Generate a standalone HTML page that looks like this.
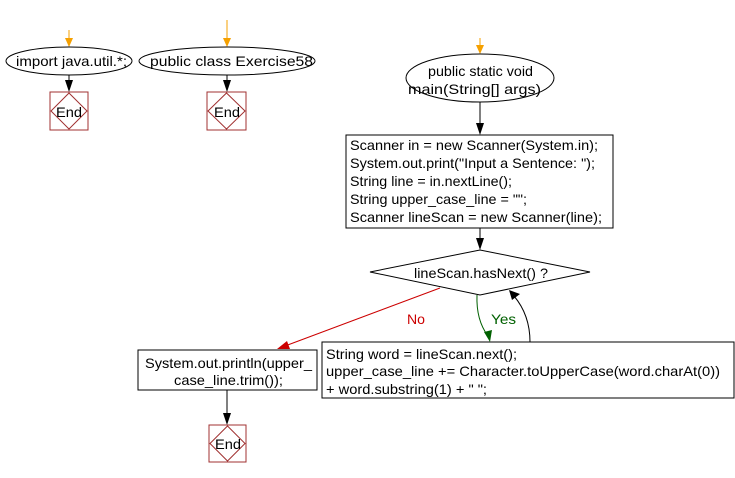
<!DOCTYPE html>
<html><head><style>body{margin:0;background:#fff}svg{display:block}text{font-family:"Liberation Sans",Arial,sans-serif;font-size:14px;fill:#000}</style></head><body>
<svg width="735" height="478" viewBox="0 0 735 478">
<g stroke-width="1" fill="none">
<line x1="69" y1="30" x2="69" y2="46" stroke="#f5a000"/><path d="M65,38 L73,38 L69,47z" fill="#f5a000"/>
<line x1="227" y1="20" x2="227" y2="46" stroke="#f5a000"/><path d="M223,38 L231,38 L227,47z" fill="#f5a000"/>
<line x1="480" y1="38" x2="480" y2="53" stroke="#f5a000"/><path d="M476,45 L484,45 L480,54z" fill="#f5a000"/>
<ellipse cx="69" cy="61" rx="63" ry="14" stroke="#000" fill="#fff"/>
<ellipse cx="227" cy="61" rx="88" ry="14" stroke="#000" fill="#fff"/>
<ellipse cx="480" cy="78" rx="74" ry="24" stroke="#000" fill="#fff"/>
<line x1="69" y1="75" x2="69" y2="90" stroke="#000"/><path d="M65,80 L73,80 L69,92z" fill="#000"/>
<line x1="227" y1="75" x2="227" y2="90" stroke="#000"/><path d="M223,80 L231,80 L227,92z" fill="#000"/>
<line x1="480" y1="102" x2="480" y2="133" stroke="#000"/><path d="M476,123 L484,123 L480,135z" fill="#000"/>
<line x1="480" y1="228" x2="480" y2="248" stroke="#000"/><path d="M476,238 L484,238 L480,250z" fill="#000"/>
<line x1="227" y1="390" x2="227" y2="423" stroke="#000"/><path d="M223,413 L231,413 L227,425z" fill="#000"/>
<g stroke="#a03030">
<rect x="50" y="92" width="38" height="38" fill="#fff"/><path d="M69,93 L87,111 L69,129 L51,111z"/>
<rect x="207" y="92" width="39" height="38" fill="#fff"/><path d="M226.5,93 L245,111 L226.5,129 L208,111z"/>
<rect x="209" y="425" width="37" height="37" fill="#fff"/><path d="M227.5,426 L245,443.5 L227.5,461 L210,443.5z"/>
</g>
<rect x="346" y="135" width="267" height="93" stroke="#000" fill="#fff"/>
<path d="M370,272 L480,250 L590,272 L480,295z" stroke="#000" fill="#fff"/>
<rect x="138" y="350" width="179" height="40" stroke="#000" fill="#fff"/>
<rect x="322" y="342" width="412" height="56" stroke="#000" fill="#fff"/>
<path d="M440,288 Q360,318 285,346" stroke="#cc0000"/><path d="M277,349 L287,341 L290,349z" fill="#cc0000"/>
<path d="M477,295 Q476,320 488,336" stroke="#006000"/><path d="M484,332 L492,330 L490,342z" fill="#006000"/>
<path d="M530,342 Q530,315 514,296" stroke="#000"/><path d="M509,290 L520,294 L512,300z" fill="#000"/>
</g>
<text x="16" y="66" textLength="111" lengthAdjust="spacingAndGlyphs">import java.util.*;</text>
<text x="150" y="66" textLength="163" lengthAdjust="spacingAndGlyphs">public class Exercise58</text>
<text x="56" y="117" textLength="26" lengthAdjust="spacingAndGlyphs">End</text>
<text x="214" y="117" textLength="26" lengthAdjust="spacingAndGlyphs">End</text>
<text x="215" y="449" textLength="26" lengthAdjust="spacingAndGlyphs">End</text>
<text x="428" y="76" textLength="105" lengthAdjust="spacingAndGlyphs">public static void</text>
<text x="408" y="94" textLength="133" lengthAdjust="spacingAndGlyphs">main(String[] args)</text>
<text x="350" y="150" textLength="248" lengthAdjust="spacingAndGlyphs">Scanner in = new Scanner(System.in);</text>
<text x="350" y="168" textLength="245" lengthAdjust="spacingAndGlyphs">System.out.print("Input a Sentence: ");</text>
<text x="350" y="186" textLength="162" lengthAdjust="spacingAndGlyphs">String line = in.nextLine();</text>
<text x="350" y="204" textLength="177" lengthAdjust="spacingAndGlyphs">String upper_case_line = "";</text>
<text x="350" y="222" textLength="252" lengthAdjust="spacingAndGlyphs">Scanner lineScan = new Scanner(line);</text>
<text x="414" y="278" textLength="134" lengthAdjust="spacingAndGlyphs">lineScan.hasNext() ?</text>
<text x="145" y="368" textLength="167" lengthAdjust="spacingAndGlyphs">System.out.println(upper_</text>
<text x="174" y="385" textLength="109" lengthAdjust="spacingAndGlyphs">case_line.trim());</text>
<text x="326" y="359" textLength="191" lengthAdjust="spacingAndGlyphs">String word = lineScan.next();</text>
<text x="326" y="376" textLength="394" lengthAdjust="spacingAndGlyphs">upper_case_line += Character.toUpperCase(word.charAt(0))</text>
<text x="326" y="394" textLength="161" lengthAdjust="spacingAndGlyphs">+ word.substring(1) + " ";</text>
<text x="407" y="324" textLength="18" lengthAdjust="spacingAndGlyphs" style="fill:#cc0000">No</text>
<text x="491" y="324" textLength="25" lengthAdjust="spacingAndGlyphs" style="fill:#006000">Yes</text>
</svg>
</body></html>
